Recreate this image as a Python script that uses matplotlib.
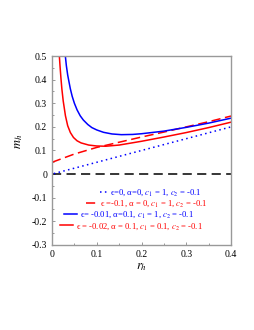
import numpy as np
import matplotlib
matplotlib.use("Agg")
import matplotlib.pyplot as plt
from matplotlib.legend import Legend
from matplotlib.ticker import MultipleLocator

plt.rcParams['font.family'] = ['Liberation Serif', 'DejaVu Serif']
plt.rcParams['mathtext.fontset'] = 'stix'
plt.rcParams['axes.unicode_minus'] = False

# values
r_dot = [0.004, 0.4]
m_dot = [0.002, 0.2]

r_dash = [0.0, 0.05, 0.1, 0.15, 0.2, 0.25, 0.3, 0.35, 0.4]
m_dash = [0.05, 0.085, 0.113, 0.135, 0.157, 0.178, 0.2, 0.222, 0.246]

r_blue = [0.0298, 0.032, 0.035, 0.038, 0.041, 0.045, 0.050, 0.056, 0.063, 0.070, 0.080,
          0.089, 0.100, 0.115, 0.134, 0.155, 0.180, 0.200, 0.250, 0.300, 0.350, 0.400]
m_blue = [0.5, 0.46, 0.42, 0.39, 0.361, 0.33, 0.30, 0.272, 0.247, 0.229, 0.210,
          0.197, 0.187, 0.177, 0.170, 0.167, 0.168, 0.171, 0.182, 0.198, 0.216, 0.237]

r_red = [0.0164, 0.018, 0.020, 0.022, 0.025, 0.030, 0.035, 0.041, 0.048, 0.056,
         0.065, 0.082, 0.100, 0.120, 0.150, 0.200, 0.250, 0.300, 0.350, 0.400]
m_red = [0.5, 0.455, 0.405, 0.361, 0.31, 0.247, 0.205, 0.176, 0.155, 0.141,
         0.132, 0.123, 0.119, 0.118, 0.123, 0.139, 0.157, 0.176, 0.197, 0.220]

labels = ['ϵ=0, α=0, $c_1$ = 1, $c_2$ = -0.1',
          'ϵ =-0.1, α = 0, $c_1$ = 1, $c_2$ = -0.1',
          'ϵ= -0.01, α=0.1, $c_1$ = 1, $c_2$ = -0.1',
          'ϵ = -0.02, α = 0.1, $c_1$ = 0.1, $c_2$ = -0.1']

xticks = [0, 0.1, 0.2, 0.3, 0.4]
yticks = [-0.3, -0.2, -0.1, 0, 0.1, 0.2, 0.3, 0.4, 0.5]

fig = plt.figure(figsize=(2.55, 3.3), dpi=100)
ax = fig.add_axes([0.204, 0.258, 0.702, 0.572])

ax.axhline(0, color='black', lw=1.1, ls=(0, (6, 3.5)))
l1, = ax.plot(r_dot, m_dot, color='blue', lw=1.1, ls=(0, (1, 2.2)))
l2, = ax.plot(r_dash, m_dash, color='red', lw=1.1, ls=(0, (6, 3)))
l3, = ax.plot(r_blue, m_blue, color='blue', lw=1.1)
l4, = ax.plot(r_red, m_red, color='red', lw=1.1)

ax.set_xlim(0, 0.4)
ax.set_ylim(-0.3, 0.5)
ax.set_xticks(xticks)
ax.set_xticklabels([f'{v:g}' for v in xticks])
ax.set_yticks(yticks)
ax.set_yticklabels([f'{v:g}' for v in yticks])
ax.xaxis.set_minor_locator(MultipleLocator(0.05))
ax.yaxis.set_minor_locator(MultipleLocator(0.05))
ax.tick_params(which='both', direction='in', labelsize=7, length=2.5, width=0.6, color='#888888')
ax.tick_params(which='minor', length=1.5)
for s in ax.spines.values():
    s.set_color('#999999')
    s.set_linewidth(1.0)

ax.set_xlabel('$r_h$', fontsize=9, labelpad=2)
ax.set_ylabel('$m_h$', fontsize=9, labelpad=4)
ax.yaxis.set_label_coords(-0.15, 0.55)

# one legend row per curve, staggered as in the original
rows = [(l1, labels[0], 0.268, 0.275, 0.85, 'blue'),
        (l2, labels[1], 0.190, 0.217, 1.3, 'red'),
        (l3, labels[2], 0.067, 0.159, 1.55, 'blue'),
        (l4, labels[3], 0.045, 0.098, 1.55, 'red')]
for h, lab, x, y, hl, c in rows:
    lg = Legend(ax, [h], [lab], loc='center left', bbox_to_anchor=(x, y),
                frameon=False, fontsize=6.2, labelcolor=c, handlelength=hl,
                handletextpad=0.35, borderpad=0, borderaxespad=0)
    ax.add_artist(lg)

fig.savefig('out.png', dpi=100)
